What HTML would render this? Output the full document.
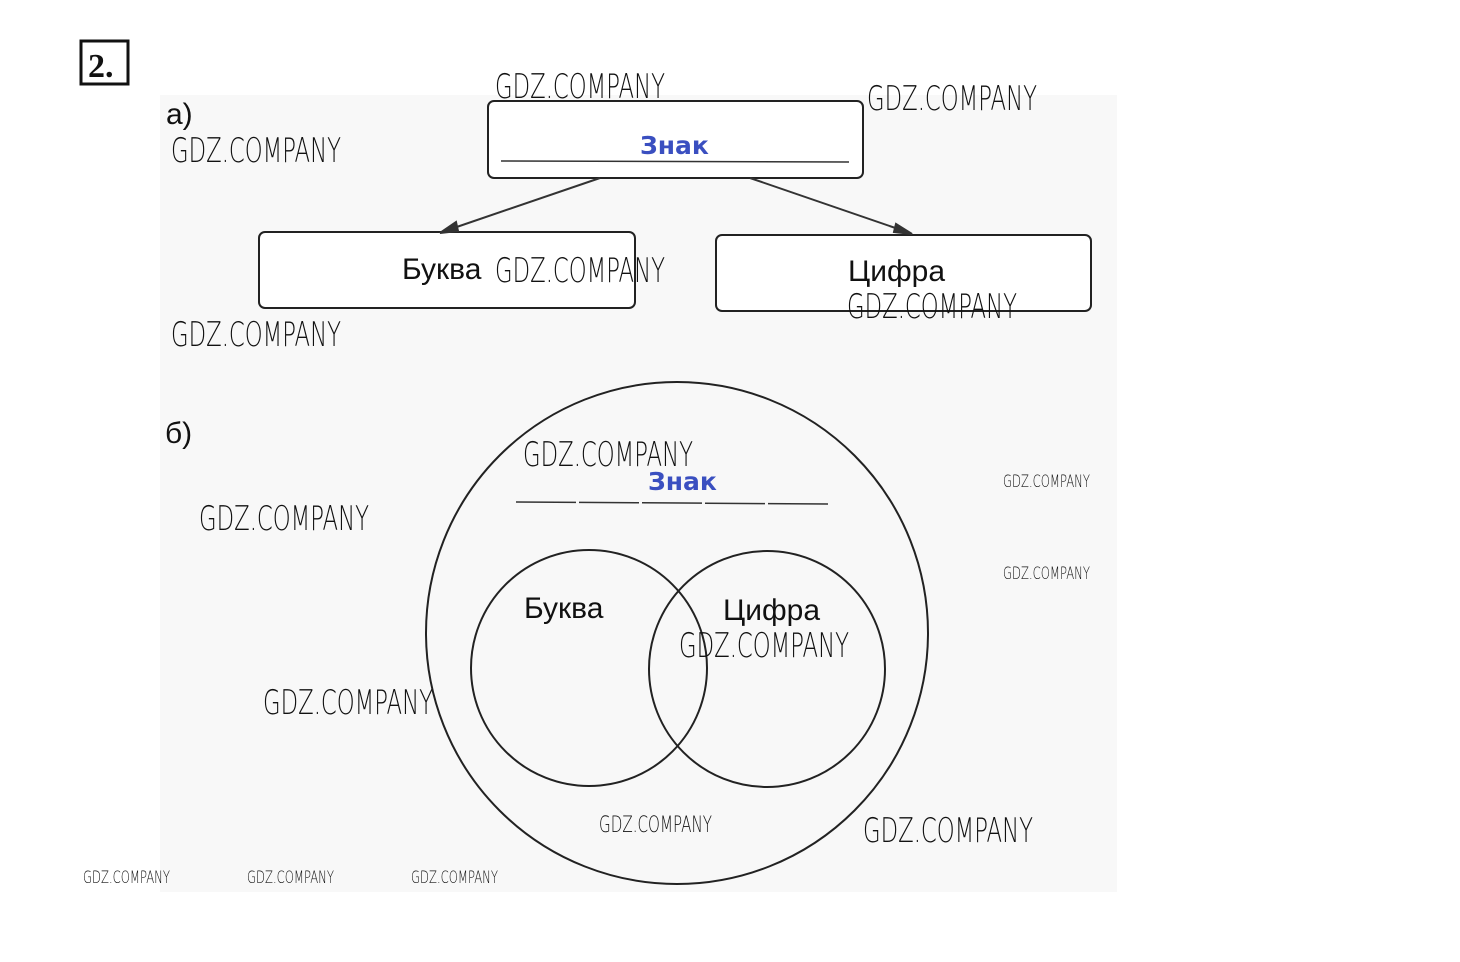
<!DOCTYPE html>
<html><head><meta charset="utf-8"><style>
html,body{margin:0;padding:0;background:#fff}
svg{display:block}
.w{font-family:"DejaVu Sans","Liberation Sans",sans-serif;font-weight:200;fill:#111}
.l{font-family:"Liberation Sans","DejaVu Sans",sans-serif;font-size:30px;fill:#111}
.b{font-family:"DejaVu Sans","Liberation Sans",sans-serif;font-weight:bold;font-size:25px;fill:#3a4fc0}
</style></head><body>
<svg width="1460" height="962" viewBox="0 0 1460 962" xmlns="http://www.w3.org/2000/svg">
<rect x="160" y="95" width="957" height="797" fill="#f8f8f8"/>
<rect x="81" y="41" width="47" height="43" fill="#fff" stroke="#111" stroke-width="3"/>
<text x="88" y="77" font-family="Liberation Serif,serif" font-weight="bold" font-size="34" fill="#111">2.</text>
<text x="166" y="124" class="l" font-size="36">а)</text>
<text x="165" y="443" class="l" font-size="36">б)</text>
<g fill="#fff" stroke="#222" stroke-width="2">
<rect x="488" y="101" width="375" height="77" rx="6"/>
<rect x="259" y="232" width="376" height="76" rx="6"/>
<rect x="716" y="235" width="375" height="76" rx="6"/>
</g>
<line x1="501" y1="161" x2="849" y2="162" stroke="#333" stroke-width="1.5"/>
<text x="640" y="154" class="b">Знак</text>
<g stroke="#333" stroke-width="2" fill="#333">
<line x1="600" y1="178" x2="445" y2="231"/>
<polygon points="440,233 456,222 458,231"/>
<line x1="750" y1="178" x2="910" y2="233"/>
<polygon points="912,234 896,224 894,232"/>
</g>
<text x="402" y="279" class="l">Буква</text>
<text x="848" y="281" class="l">Цифра</text>
<g fill="none" stroke="#222" stroke-width="2">
<ellipse cx="677" cy="633" rx="251" ry="251"/>
<circle cx="589" cy="668" r="118"/>
<circle cx="767" cy="669" r="118"/>
</g>
<line x1="516" y1="502" x2="830" y2="504" stroke="#333" stroke-width="1.5" stroke-dasharray="60,3"/>
<text x="648" y="490" class="b">Знак</text>
<text x="524" y="618" class="l">Буква</text>
<text x="723" y="620" class="l">Цифра</text>
<g class="w">
<text x="495" y="98" font-size="34" textLength="170" lengthAdjust="spacingAndGlyphs">GDZ.COMPANY</text>
<text x="867" y="110" font-size="34" textLength="170" lengthAdjust="spacingAndGlyphs">GDZ.COMPANY</text>
<text x="171" y="162" font-size="34" textLength="170" lengthAdjust="spacingAndGlyphs">GDZ.COMPANY</text>
<text x="495" y="282" font-size="34" textLength="170" lengthAdjust="spacingAndGlyphs">GDZ.COMPANY</text>
<text x="847" y="318" font-size="34" textLength="170" lengthAdjust="spacingAndGlyphs">GDZ.COMPANY</text>
<text x="171" y="346" font-size="34" textLength="170" lengthAdjust="spacingAndGlyphs">GDZ.COMPANY</text>
<text x="523" y="466" font-size="34" textLength="170" lengthAdjust="spacingAndGlyphs">GDZ.COMPANY</text>
<text x="199" y="530" font-size="34" textLength="170" lengthAdjust="spacingAndGlyphs">GDZ.COMPANY</text>
<text x="679" y="657" font-size="34" textLength="170" lengthAdjust="spacingAndGlyphs">GDZ.COMPANY</text>
<text x="263" y="714" font-size="34" textLength="170" lengthAdjust="spacingAndGlyphs">GDZ.COMPANY</text>
<text x="863" y="842" font-size="34" textLength="170" lengthAdjust="spacingAndGlyphs">GDZ.COMPANY</text>
<text x="599" y="832" font-size="22" textLength="113" lengthAdjust="spacingAndGlyphs">GDZ.COMPANY</text>
<text x="1003" y="487" font-size="17" textLength="87" lengthAdjust="spacingAndGlyphs">GDZ.COMPANY</text>
<text x="1003" y="579" font-size="17" textLength="87" lengthAdjust="spacingAndGlyphs">GDZ.COMPANY</text>
<text x="83" y="883" font-size="17" textLength="87" lengthAdjust="spacingAndGlyphs">GDZ.COMPANY</text>
<text x="247" y="883" font-size="17" textLength="87" lengthAdjust="spacingAndGlyphs">GDZ.COMPANY</text>
<text x="411" y="883" font-size="17" textLength="87" lengthAdjust="spacingAndGlyphs">GDZ.COMPANY</text>
</g>
</svg>
</body></html>
